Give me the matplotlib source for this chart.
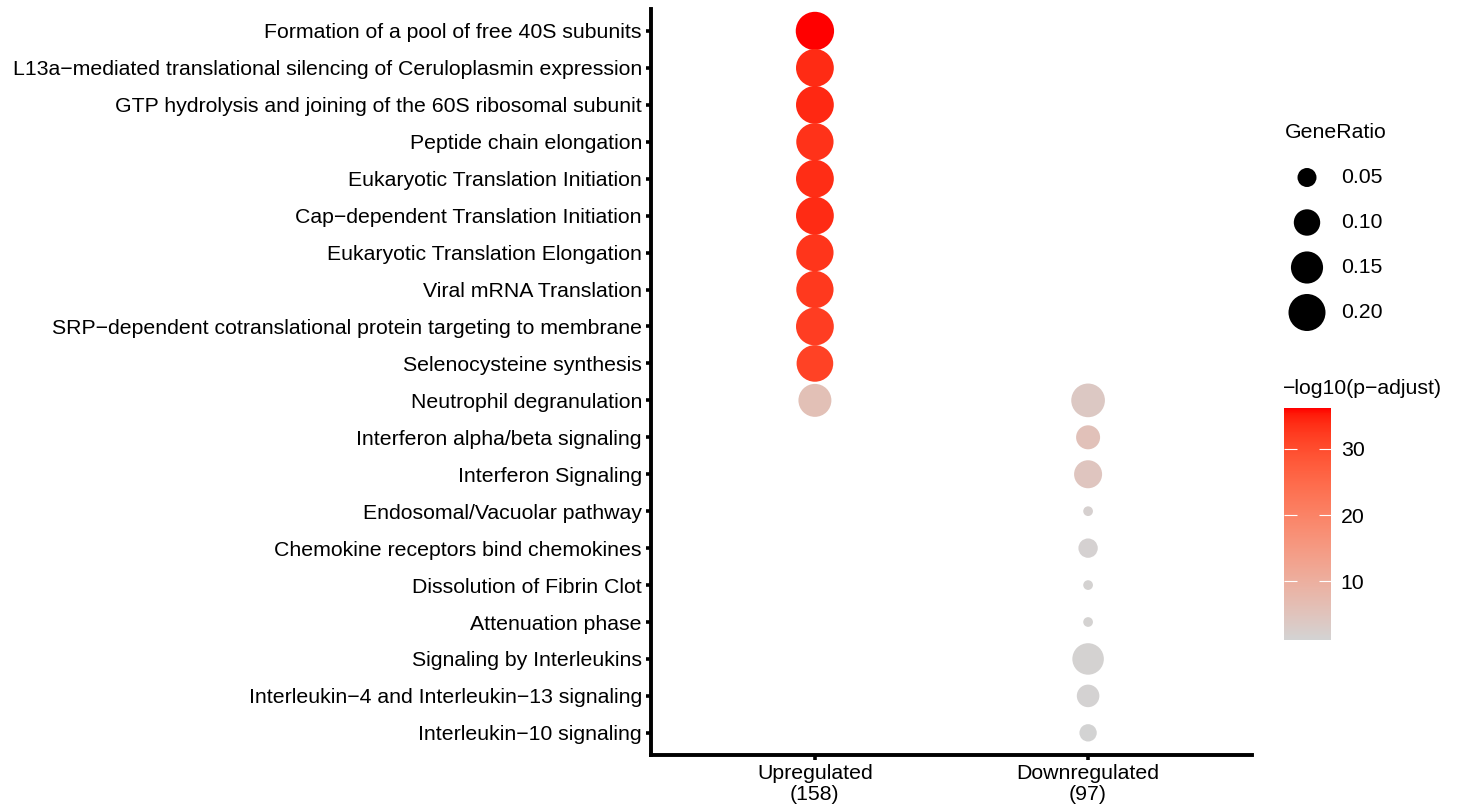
import numpy as np
import matplotlib
matplotlib.use("Agg")
import matplotlib.pyplot as plt
from matplotlib.colors import ListedColormap, Normalize
from matplotlib.cm import ScalarMappable

plt.rcParams['font.family'] = ['Liberation Sans', 'DejaVu Sans']
FS = 15.35

# pathways, top to bottom
pathways = [
    "Formation of a pool of free 40S subunits",
    "L13a\u2212mediated translational silencing of Ceruloplasmin expression",
    "GTP hydrolysis and joining of the 60S ribosomal subunit",
    "Peptide chain elongation",
    "Eukaryotic Translation Initiation",
    "Cap\u2212dependent Translation Initiation",
    "Eukaryotic Translation Elongation",
    "Viral mRNA Translation",
    "SRP\u2212dependent cotranslational protein targeting to membrane",
    "Selenocysteine synthesis",
    "Neutrophil degranulation",
    "Interferon alpha/beta signaling",
    "Interferon Signaling",
    "Endosomal/Vacuolar pathway",
    "Chemokine receptors bind chemokines",
    "Dissolution of Fibrin Clot",
    "Attenuation phase",
    "Signaling by Interleukins",
    "Interleukin\u22124 and Interleukin\u221213 signaling",
    "Interleukin\u221210 signaling",
]
groups = ["Upregulated\n(158)", "Downregulated\n(97)"]

# upregulated hits
up_paths = pathways[:11]
up_ratio = [0.215, 0.209, 0.209, 0.203, 0.209, 0.209, 0.203, 0.203, 0.209, 0.196, 0.158]
up_logp = [36.2, 34.0, 34.2, 33.3, 33.8, 34.0, 33.0, 32.5, 32.0, 31.5, 6.0]

# downregulated hits
down_paths = pathways[10:]
down_ratio = [0.165, 0.082, 0.113, 0.0103, 0.052, 0.0103, 0.0103, 0.144, 0.072, 0.041]
down_logp = [3.8, 5.5, 4.6, 1.8, 1.6, 1.5, 1.5, 1.4, 1.3, 1.2]

legend_ratios = [0.05, 0.10, 0.15, 0.20]
cbar_ticks = [10, 20, 30]
vmin, vmax = 1.1, 36.2


# ggplot-like grey->red gradient interpolated in CIELAB
def srgb_to_lab(rgb):
    rgb = np.asarray(rgb, float)
    lin = np.where(rgb <= 0.04045, rgb / 12.92, ((rgb + 0.055) / 1.055) ** 2.4)
    M = np.array([[0.4124, 0.3576, 0.1805],
                  [0.2126, 0.7152, 0.0722],
                  [0.0193, 0.1192, 0.9505]])
    xyz = lin @ M.T / np.array([0.95047, 1.0, 1.08883])
    f = np.where(xyz > 0.008856, np.cbrt(xyz), 7.787 * xyz + 16 / 116)
    return np.stack([116 * f[..., 1] - 16, 500 * (f[..., 0] - f[..., 1]),
                     200 * (f[..., 1] - f[..., 2])], -1)


def lab_to_srgb(lab):
    L, a, b = lab[..., 0], lab[..., 1], lab[..., 2]
    fy = (L + 16) / 116
    fx = fy + a / 500
    fz = fy - b / 200
    f = np.stack([fx, fy, fz], -1)
    xyz = np.where(f ** 3 > 0.008856, f ** 3, (f - 16 / 116) / 7.787)
    xyz = xyz * np.array([0.95047, 1.0, 1.08883])
    Minv = np.array([[3.2406, -1.5372, -0.4986],
                     [-0.9689, 1.8758, 0.0415],
                     [0.0557, -0.2040, 1.0570]])
    lin = xyz @ Minv.T
    lin = np.clip(lin, 0, 1)
    rgb = np.where(lin <= 0.0031308, 12.92 * lin, 1.055 * lin ** (1 / 2.4) - 0.055)
    return np.clip(rgb, 0, 1)


lo = srgb_to_lab([211 / 255, 211 / 255, 211 / 255])
hi = srgb_to_lab([1.0, 0.0, 0.0])
t = np.linspace(0, 1, 256)[:, None]
cmap = ListedColormap(lab_to_srgb(lo + (hi - lo) * t))
norm = Normalize(vmin=vmin, vmax=vmax)


def size_scale(r):
    # marker area in points^2 (diameter in px^2 ~ 25 + 6720 * ratio)
    d_px2 = 25 + 6720 * np.asarray(r, float)
    return d_px2 * 0.72 ** 2


fig = plt.figure(figsize=(14.63, 8.09), dpi=100)
W, H = 1463, 809
ax = fig.add_axes([651 / W, 1 - 755 / H, (1252 - 651) / W, (755 - 8.8) / H])

ypos = {p: len(pathways) - i for i, p in enumerate(pathways)}
ax.scatter([1] * len(up_paths), [ypos[p] for p in up_paths], s=size_scale(up_ratio),
           c=up_logp, cmap=cmap, norm=norm, edgecolors='none', zorder=3)
ax.scatter([2] * len(down_paths), [ypos[p] for p in down_paths], s=size_scale(down_ratio),
           c=down_logp, cmap=cmap, norm=norm, edgecolors='none', zorder=3)

ax.set_xlim(0.4, 2.6)
ax.set_ylim(0.4, len(pathways) + 0.6)
ax.set_xticks([1, 2])
ax.set_xticklabels(groups, fontsize=FS, linespacing=1.15)
ax.set_yticks([ypos[p] for p in pathways])
ax.set_yticklabels(pathways, fontsize=FS)
for s in ['top', 'right']:
    ax.spines[s].set_visible(False)
for s in ['left', 'bottom']:
    ax.spines[s].set_linewidth(2.8)
ax.tick_params(axis='both', length=3.5, width=2.6, color='black', labelcolor='black')
ax.tick_params(axis='y', pad=3)
ax.tick_params(axis='x', pad=3)

# size legend
fig.text(1285 / W, 1 - 133 / H, "GeneRatio", fontsize=FS, ha='left', va='center')
lax = fig.add_axes([1285 / W, 1 - 335 / H, 90 / W, 180 / H])
lax.set_xlim(0, 1)
lax.set_ylim(-0.5, 3.5)
lax.axis('off')
ly = np.arange(len(legend_ratios))[::-1]
lax.scatter([22 / 90] * len(legend_ratios), ly, s=size_scale(legend_ratios), c='black',
            edgecolors='none')
for r, yy in zip(legend_ratios, ly):
    lax.text(56 / 90, yy, f"{r:.2f}", fontsize=FS, ha='left', va='center')

# colour bar
fig.text(1283 / W, 1 - 389 / H, "\u2212log10(p\u2212adjust)", fontsize=FS, ha='left',
         va='center')
cax = fig.add_axes([1284 / W, 1 - 640 / H, 47 / W, (640 - 408) / H])
cb = fig.colorbar(ScalarMappable(norm=norm, cmap=cmap), cax=cax, ticks=cbar_ticks)
cb.outline.set_visible(False)
cax.tick_params(axis='y', direction='in', left=True, right=True, length=9, width=0.8,
                color='white', labelsize=FS, pad=7)

fig.savefig("out.png", dpi=100)
